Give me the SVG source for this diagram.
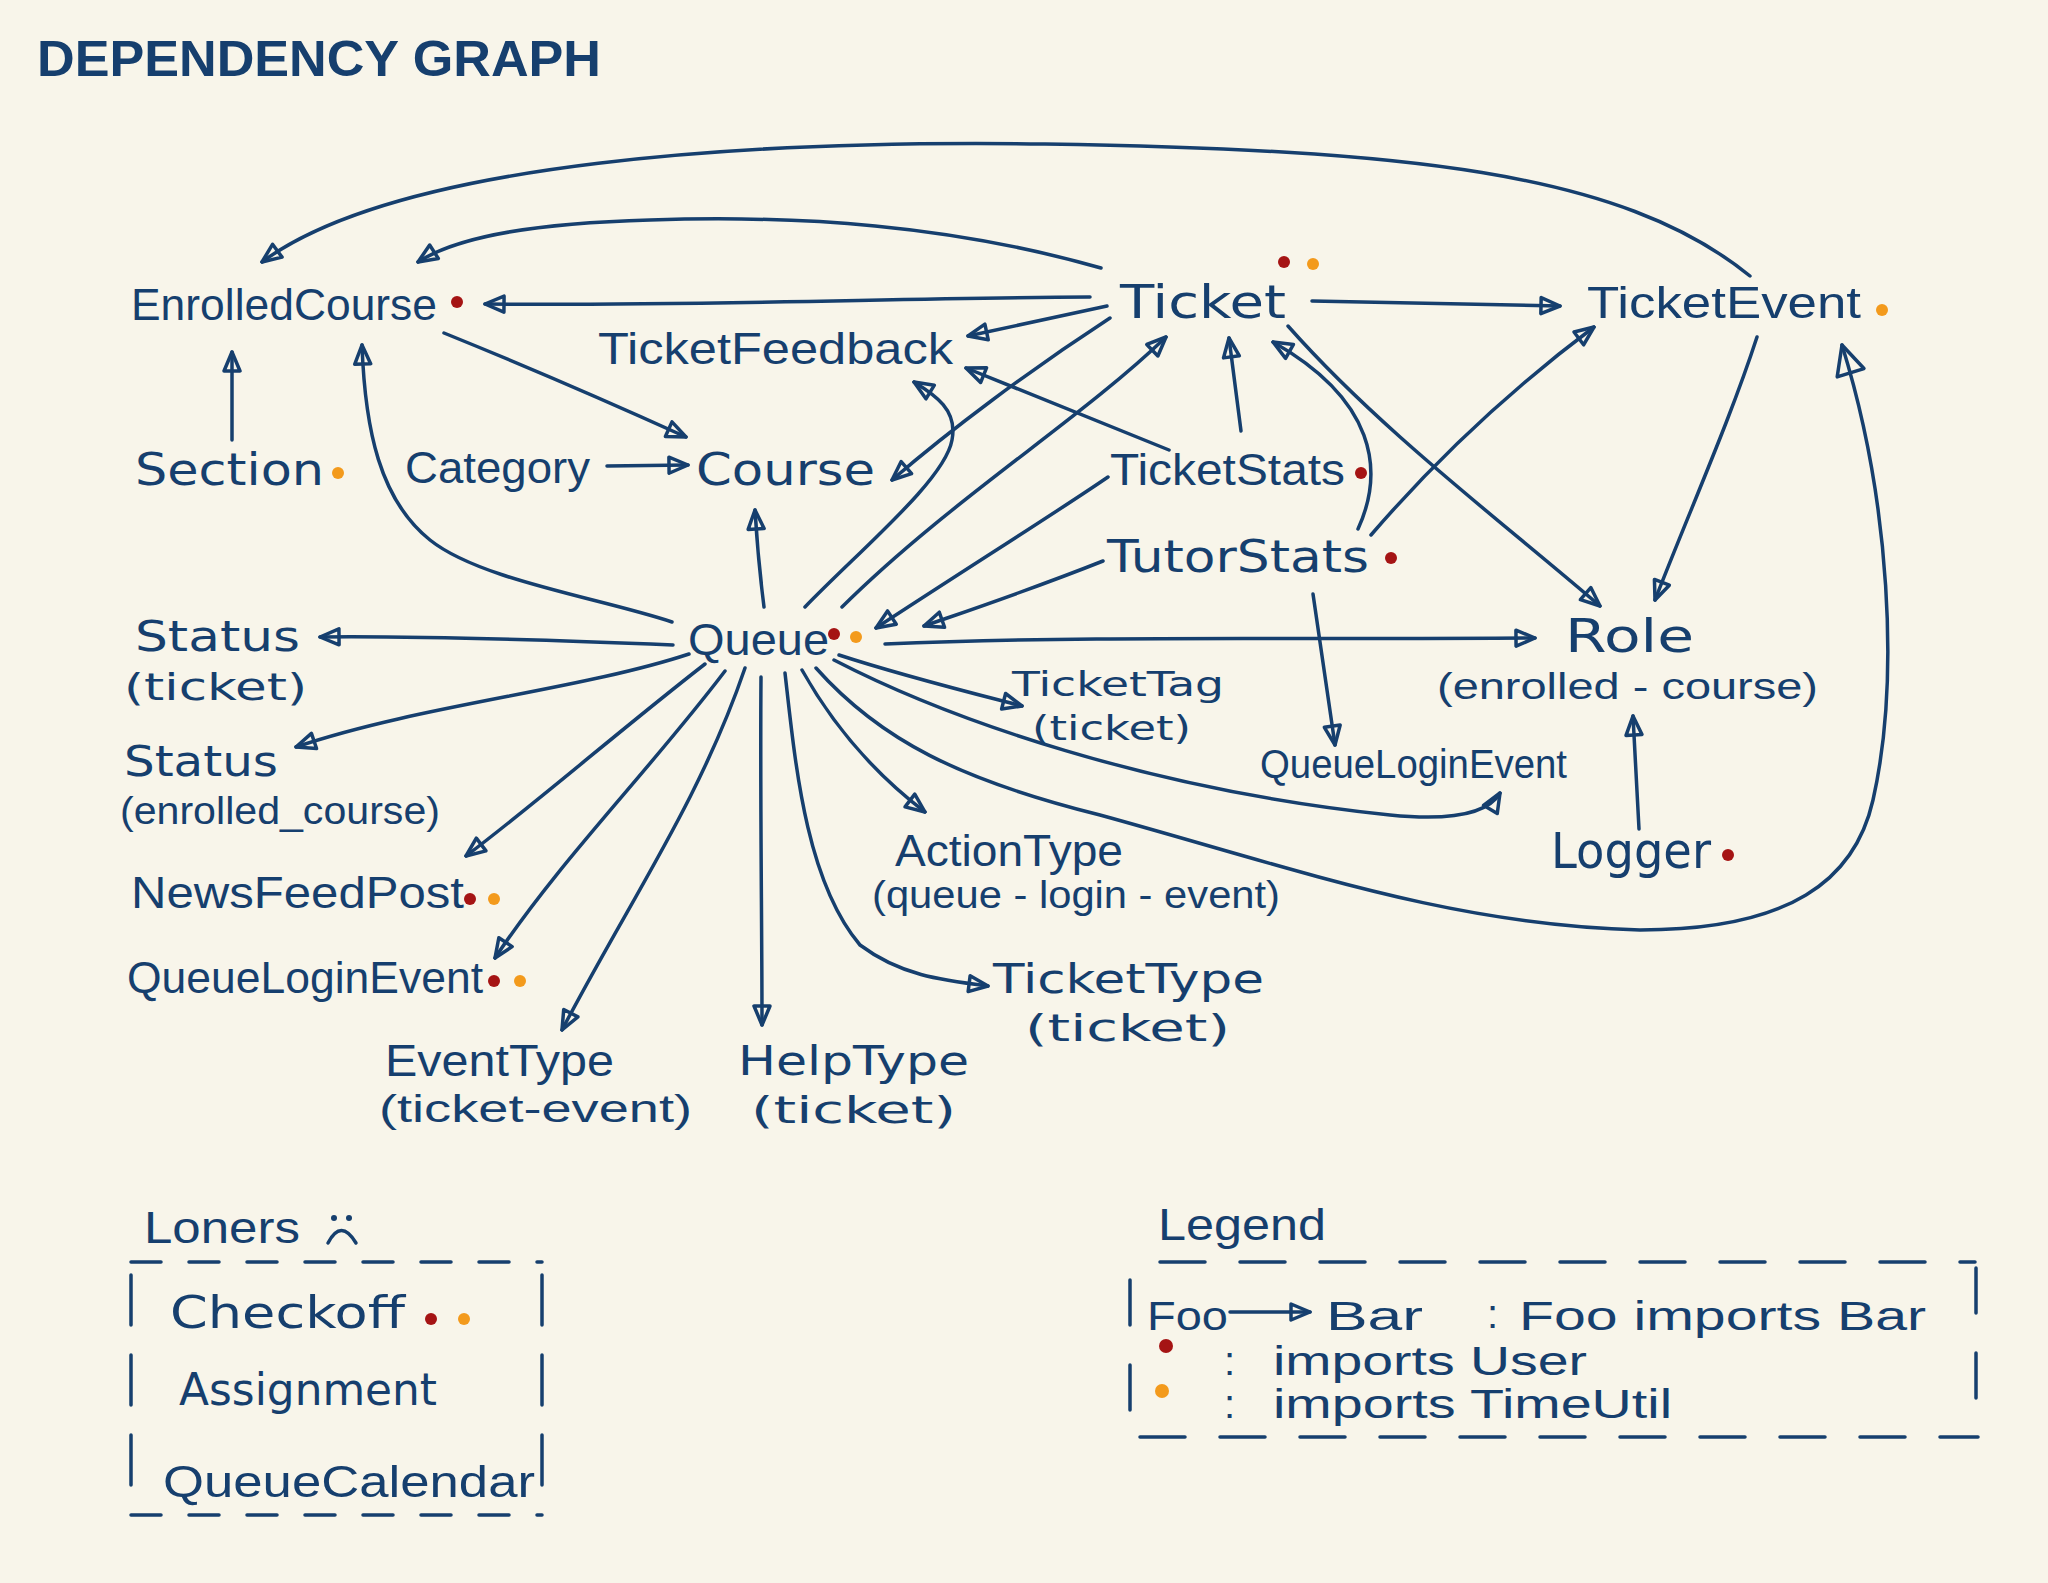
<svg xmlns="http://www.w3.org/2000/svg" width="2048" height="1583" viewBox="0 0 2048 1583">
<style>
text{font-family:"Liberation Sans","DejaVu Sans",sans-serif;fill:#163f6e}
text.w{font-family:"DejaVu Sans","Liberation Sans",sans-serif}
.n{font-size:44px}
.s{font-size:38px}
.e{fill:none;stroke:#163f6e;stroke-width:3.5;stroke-linecap:round;stroke-linejoin:round;marker-end:url(#a)}
.d{fill:none;stroke:#163f6e;stroke-width:3.5;stroke-linecap:round}
.r{fill:#a51414}
.o{fill:#f39a1c}
</style>
<defs>
<marker id="a" viewBox="0 0 24 24" refX="22" refY="12" markerWidth="24" markerHeight="24" markerUnits="userSpaceOnUse" orient="auto">
<path d="M3,4 L22,12 L3,20 Z" fill="none" stroke="#163f6e" stroke-width="3.5" stroke-linejoin="round"/>
</marker>
<marker id="ab" viewBox="0 0 36 36" refX="33" refY="18" markerWidth="36" markerHeight="36" markerUnits="userSpaceOnUse" orient="auto">
<path d="M4,4 L33,18 L4,32 Z" fill="none" stroke="#163f6e" stroke-width="3.5" stroke-linejoin="round"/>
</marker>
</defs>
<rect width="2048" height="1583" fill="#f8f5ea"/>
<text x="37" y="76" font-size="50" font-weight="bold" textLength="564" lengthAdjust="spacingAndGlyphs">DEPENDENCY GRAPH</text>

<g id="connectors">
<path class="e" d="M1750,276 C1620,170 1400,150 1045,144 C760,140 400,160 262,262"/>
<path class="e" d="M1101,268 C950,225 800,215 650,220 C540,223 460,235 418,262"/>
<path class="e" d="M1090,297 C900,298 700,306 485,304"/>
<path class="e" d="M1107,306 L968,336"/>
<path class="e" d="M1110,318 C1030,370 950,430 892,480"/>
<path class="e" d="M1312,301 L1560,306"/>
<path class="e" d="M1288,326 C1380,430 1500,520 1600,606"/>
<path class="e" d="M1757,337 C1730,420 1690,510 1655,600"/>
<path class="e" d="M444,333 Q560,380 686,437"/>
<path class="e" d="M232,440 L232,352"/>
<path class="e" d="M672,622 C600,598 480,580 430,540 C380,500 365,430 362,345"/>
<path class="e" d="M607,466 L688,465"/>
<path class="e" d="M1169,450 L966,368"/>
<path class="e" d="M1241,431 L1229,338"/>
<path class="e" d="M1358,529 C1385,470 1375,400 1273,342"/>
<path class="e" d="M1371,535 Q1470,420 1594,327"/>
<path class="e" d="M805,607 C860,550 945,480 952,440 C958,410 935,395 914,382"/>
<path class="e" d="M842,607 C950,500 1080,420 1166,337"/>
<path class="e" d="M1108,477 C1060,510 980,560 876,628"/>
<path class="e" d="M1103,561 C1030,590 970,610 924,626"/>
<path class="e" d="M764,607 Q758,560 755,510"/>
<path class="e" d="M673,645 C550,640 420,636 320,637"/>
<path class="e" d="M885,644 C1100,635 1300,640 1535,638"/>
<path class="e" d="M1313,594 L1335,745"/>
<path class="e" d="M1639,829 L1633,716"/>
<path class="e" style="marker-end:url(#ab)" d="M816,668 C880,740 960,780 1100,815 C1300,870 1450,925 1640,930 C1790,930 1855,880 1873,800 C1900,680 1890,500 1842,345"/>
<path class="e" d="M834,660 C950,720 1150,790 1390,815 C1460,822 1490,810 1500,793"/>
<path class="e" d="M839,655 C900,675 960,690 1022,706"/>
<path class="e" d="M802,670 C830,720 870,770 925,812"/>
<path class="e" d="M785,673 C795,760 805,880 860,945 C900,975 940,980 988,986"/>
<path class="e" d="M761,677 C760,800 762,920 762,1025"/>
<path class="e" d="M745,668 C700,800 630,900 562,1030"/>
<path class="e" d="M725,671 C650,770 560,860 495,958"/>
<path class="e" d="M705,664 C620,730 540,800 466,856"/>
<path class="e" d="M689,654 C580,690 420,705 296,747"/>
</g>

<g id="EnrolledCourse"><text class="n" x="131" y="320" textLength="306" lengthAdjust="spacingAndGlyphs">EnrolledCourse</text><circle class="r" cx="457" cy="302" r="6"/></g>
<g id="TicketFeedback"><text class="n" x="598" y="364" textLength="355" lengthAdjust="spacingAndGlyphs">TicketFeedback</text></g>
<g id="Ticket"><text class="w" x="1120" y="318" font-size="46" textLength="166" lengthAdjust="spacingAndGlyphs">Ticket</text><circle class="r" cx="1284" cy="262" r="6"/><circle class="o" cx="1313" cy="264" r="6"/></g>
<g id="TicketEvent"><text class="n" x="1587" y="318" textLength="274" lengthAdjust="spacingAndGlyphs">TicketEvent</text><circle class="o" cx="1882" cy="310" r="6"/></g>
<g id="Section"><text class="n w" x="135" y="485" textLength="189" lengthAdjust="spacingAndGlyphs">Section</text><circle class="o" cx="338" cy="473" r="6"/></g>
<g id="Category"><text class="n" x="405" y="483" textLength="185" lengthAdjust="spacingAndGlyphs">Category</text></g>
<g id="Course"><text class="n w" x="696" y="485" textLength="179" lengthAdjust="spacingAndGlyphs">Course</text></g>
<g id="TicketStats"><text class="n" x="1110" y="485" textLength="235" lengthAdjust="spacingAndGlyphs">TicketStats</text><circle class="r" cx="1361" cy="473" r="6"/></g>
<g id="TutorStats"><text class="n w" x="1107" y="572" textLength="262" lengthAdjust="spacingAndGlyphs">TutorStats</text><circle class="r" cx="1391" cy="558" r="6"/></g>
<g id="Queue"><text class="n" x="688" y="655" textLength="141" lengthAdjust="spacingAndGlyphs">Queue</text><circle class="r" cx="834" cy="634" r="6"/><circle class="o" cx="856" cy="637" r="6"/></g>
<g id="StatusTicket"><text class="w" x="135" y="651" font-size="42" textLength="165" lengthAdjust="spacingAndGlyphs">Status</text><text class="w" x="124" y="700" font-size="38" textLength="183" lengthAdjust="spacingAndGlyphs">(ticket)</text></g>
<g id="Role"><text class="w" x="1565" y="652" font-size="46" textLength="129" lengthAdjust="spacingAndGlyphs">Role</text><text x="1437" y="699" font-size="36" textLength="381" lengthAdjust="spacingAndGlyphs">(enrolled - course)</text></g>
<g id="TicketTag"><text class="w" x="1012" y="696" font-size="34" textLength="212" lengthAdjust="spacingAndGlyphs">TicketTag</text><text class="w" x="1032" y="740" font-size="34" textLength="159" lengthAdjust="spacingAndGlyphs">(ticket)</text></g>
<g id="StatusEnrolledCourse"><text class="w" x="124" y="776" font-size="42" textLength="154" lengthAdjust="spacingAndGlyphs">Status</text><text class="s" x="120" y="824" textLength="320" lengthAdjust="spacingAndGlyphs">(enrolled_course)</text></g>
<g id="QueueLoginEventRight"><text x="1260" y="778" font-size="40" textLength="307" lengthAdjust="spacingAndGlyphs">QueueLoginEvent</text></g>
<g id="ActionType"><text class="n" x="895" y="866" textLength="228" lengthAdjust="spacingAndGlyphs">ActionType</text><text class="s" x="872" y="908" textLength="408" lengthAdjust="spacingAndGlyphs">(queue - login - event)</text></g>
<g id="NewsFeedPost"><text class="n" x="131" y="908" textLength="333" lengthAdjust="spacingAndGlyphs">NewsFeedPost</text><circle class="r" cx="470" cy="899" r="6"/><circle class="o" cx="494" cy="899" r="6"/></g>
<g id="Logger"><text class="w" x="1551" y="868" font-size="50" textLength="160" lengthAdjust="spacingAndGlyphs">Logger</text><circle class="r" cx="1728" cy="855" r="6"/></g>
<g id="QueueLoginEventLeft"><text class="n" x="127" y="993" textLength="356" lengthAdjust="spacingAndGlyphs">QueueLoginEvent</text><circle class="r" cx="494" cy="981" r="6"/><circle class="o" cx="520" cy="981" r="6"/></g>
<g id="TicketType"><text class="w" x="993" y="993" font-size="40" textLength="271" lengthAdjust="spacingAndGlyphs">TicketType</text><text class="w" x="1025" y="1041" font-size="38" textLength="205" lengthAdjust="spacingAndGlyphs">(ticket)</text></g>
<g id="EventType"><text class="n" x="385" y="1076" textLength="229" lengthAdjust="spacingAndGlyphs">EventType</text><text class="s" x="379" y="1122" textLength="313" lengthAdjust="spacingAndGlyphs">(ticket-event)</text></g>
<g id="HelpType"><text class="w" x="738" y="1075" font-size="40" textLength="231" lengthAdjust="spacingAndGlyphs">HelpType</text><text class="w" x="751" y="1123" font-size="38" textLength="205" lengthAdjust="spacingAndGlyphs">(ticket)</text></g>

<g id="Loners">
<text class="n" x="144" y="1243" textLength="156" lengthAdjust="spacingAndGlyphs">Loners</text>
<circle cx="334" cy="1218" r="3" fill="#163f6e"/><circle cx="349" cy="1218" r="3" fill="#163f6e"/>
<path class="d" d="M328,1243 Q341,1218 356,1243"/>
<path class="d" stroke-dasharray="30 28" d="M131,1262 L542,1262"/>
<path class="d" stroke-dasharray="30 28" d="M131,1515 L542,1515"/>
<path class="d" stroke-dasharray="50 30" d="M131,1275 L131,1508"/>
<path class="d" stroke-dasharray="50 30" d="M542,1275 L542,1508"/>
<text class="n w" x="170" y="1328" textLength="235" lengthAdjust="spacingAndGlyphs">Checkoff</text><circle class="r" cx="431" cy="1319" r="6"/><circle class="o" cx="464" cy="1319" r="6"/>
<text class="n w" x="179" y="1405" textLength="258" lengthAdjust="spacingAndGlyphs">Assignment</text>
<text class="n" x="163" y="1497" textLength="372" lengthAdjust="spacingAndGlyphs">QueueCalendar</text>
</g>

<g id="Legend">
<text class="n" x="1158" y="1240" textLength="168" lengthAdjust="spacingAndGlyphs">Legend</text>
<path class="d" stroke-dasharray="45 35" d="M1160,1262 L1975,1262"/>
<path class="d" stroke-dasharray="45 35" d="M1140,1437 L1978,1437"/>
<path class="d" stroke-dasharray="45 40" d="M1130,1280 L1130,1430"/>
<path class="d" stroke-dasharray="45 40" d="M1976,1268 L1976,1430"/>
<text x="1147" y="1330" font-size="40" textLength="81" lengthAdjust="spacingAndGlyphs">Foo</text>
<path class="e" d="M1230,1312 L1310,1312"/>
<text x="1326" y="1330" font-size="40" textLength="97" lengthAdjust="spacingAndGlyphs">Bar</text>
<text x="1487" y="1328" font-size="40">:</text>
<text x="1519" y="1330" font-size="40" textLength="407" lengthAdjust="spacingAndGlyphs">Foo imports  Bar</text>
<circle class="r" cx="1166" cy="1346" r="7"/>
<text x="1224" y="1375" font-size="40">:</text>
<text x="1273" y="1375" font-size="40" textLength="314" lengthAdjust="spacingAndGlyphs">imports User</text>
<circle class="o" cx="1162" cy="1391" r="7"/>
<text x="1224" y="1418" font-size="40">:</text>
<text x="1273" y="1418" font-size="40" textLength="399" lengthAdjust="spacingAndGlyphs">imports TimeUtil</text>
</g>
</svg>
